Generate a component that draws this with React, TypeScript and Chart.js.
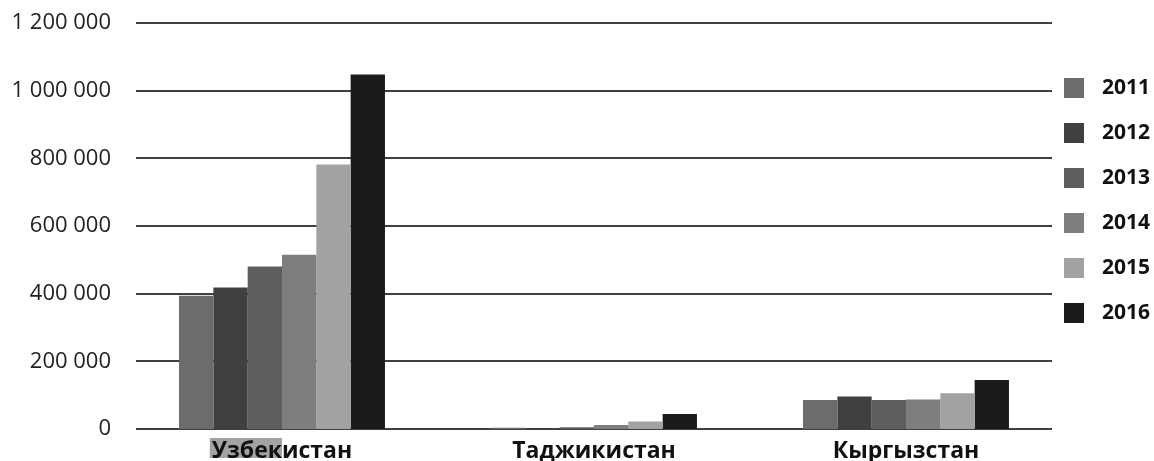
import React, { useEffect, useRef } from "react";
import { Chart, registerables } from "chart.js";

Chart.register(...registerables);

const categories = ["Узбекистан", "Таджикистан", "Кыргызстан"];
const years = ["2011", "2012", "2013", "2014", "2015", "2016"];
const values2011 = [394000, 4000, 86000];
const values2012 = [418000, 3000, 96000];
const values2013 = [480000, 5000, 86000];
const values2014 = [515000, 12000, 87000];
const values2015 = [782000, 22000, 106000];
const values2016 = [1048000, 44000, 145000];
const seriesValues = [values2011, values2012, values2013, values2014, values2015, values2016];
const colors = ["#6c6c6c", "#404040", "#5e5e5e", "#7e7e7e", "#a2a2a2", "#1b1b1b"];
const yMax = 1200000;
const yStep = 200000;

const FONT = "'Open Sans', 'Noto Sans', sans-serif";

const fmt = (v: number) => String(v).replace(/\B(?=(\d{3})+(?!\d))/g, " ");

const gridPlugin = {
  id: "insetGrid",
  beforeDatasetsDraw(chart: any) {
    const { ctx, chartArea, scales } = chart;
    const y = scales.y;
    ctx.save();
    ctx.strokeStyle = "#404040";
    ctx.lineWidth = 2;
    y.ticks.forEach((t: any) => {
      const py = Math.round(y.getPixelForValue(t.value));
      ctx.beginPath();
      ctx.moveTo(chartArea.left + 10, py);
      ctx.lineTo(chartArea.right - 10, py);
      ctx.stroke();
    });
    ctx.restore();
  },
};

const highlightPlugin = {
  id: "labelHighlight",
  beforeDraw(chart: any) {
    const { ctx, scales } = chart;
    const x = scales.x;
    ctx.save();
    ctx.font = `bold 23px ${FONT}`;
    const full = ctx.measureText(categories[0]).width;
    const part = ctx.measureText(categories[0].slice(0, 5)).width;
    const cx = x.getPixelForTick(0);
    const left = cx - full / 2;
    ctx.fillStyle = "#a3a3a3";
    ctx.fillRect(left - 2, x.top + 9, part + 2, 20);
    ctx.restore();
  },
};

const legendPlugin = {
  id: "sideLegend",
  afterDraw(chart: any) {
    const { ctx } = chart;
    ctx.save();
    ctx.font = `bold 21px ${FONT}`;
    ctx.textBaseline = "middle";
    ctx.textAlign = "left";
    chart.data.datasets.forEach((ds: any, i: number) => {
      const cy = 88 + i * 45;
      ctx.fillStyle = ds.backgroundColor;
      ctx.fillRect(1064, cy - 10, 20, 20);
      ctx.fillStyle = "#111";
      ctx.fillText(ds.label, 1102, cy);
    });
    ctx.restore();
  },
};

export default function App() {
  const ref = useRef<HTMLCanvasElement | null>(null);
  useEffect(() => {
    document.body.style.margin = "0";
    const canvas = ref.current!;
    const chart = new Chart(canvas, {
      type: "bar",
      data: {
        labels: categories,
        datasets: years.map((yr, i) => ({
          label: yr,
          data: seriesValues[i],
          backgroundColor: colors[i],
          borderWidth: 0,
          categoryPercentage: 0.66,
          barPercentage: 1.0,
        })),
      },
      options: {
        animation: false,
        responsive: false,
        devicePixelRatio: 1,
        layout: { padding: { top: 23, right: 92, bottom: 0, left: 0 } },
        plugins: {
          legend: { display: false },
          tooltip: { enabled: false },
        },
        scales: {
          x: {
            grid: { display: false },
            border: { display: false },
            ticks: {
              color: "#111",
              font: { family: FONT, size: 23, weight: "bold" },
              padding: 1,
            },
            afterFit: (s: any) => {
              s.height = 32;
            },
          },
          y: {
            min: 0,
            max: yMax,
            grid: { display: false },
            border: { display: false },
            ticks: {
              stepSize: yStep,
              color: "#222",
              font: { family: FONT, size: 22 },
              padding: 7,
              callback: (v: any) => fmt(Number(v)),
            },
            afterFit: (s: any) => {
              s.width = 126;
            },
          },
        },
      },
      plugins: [gridPlugin, highlightPlugin, legendPlugin],
    });
    return () => chart.destroy();
  }, []);
  return (
    <div style={{ position: "fixed", left: 0, top: 0, width: 1154, height: 461 }}>
      <canvas ref={ref} width={1154} height={461} />
    </div>
  );
}
